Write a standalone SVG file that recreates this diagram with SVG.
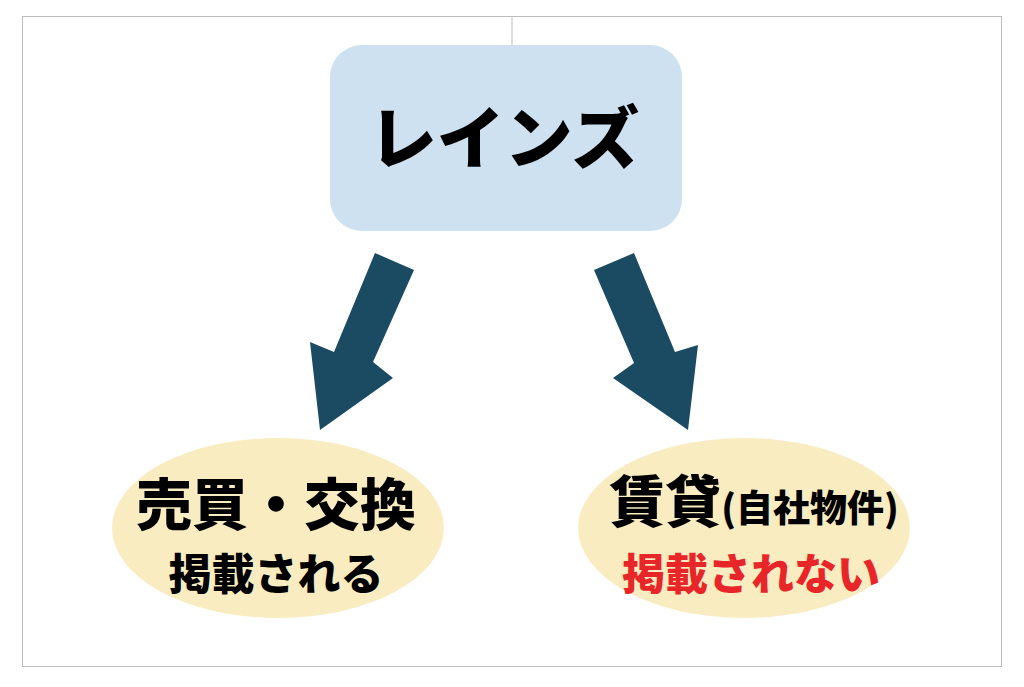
<svg xmlns="http://www.w3.org/2000/svg" width="1024" height="687" viewBox="0 0 1024 687">
<style>
text{font-family:"Noto Sans CJK JP","Noto Sans",sans-serif;font-weight:900;text-anchor:middle}
.arr{fill:#1b4a63}
.ell{fill:#f8ecc0}
</style>
<rect width="1024" height="687" fill="#fff"/>
<rect x="22.5" y="16.5" width="979" height="650" fill="none" stroke="#bbb" stroke-width="1"/>
<line x1="512" y1="16" x2="512" y2="45" stroke="#bbb"/>
<g id="reins">
<rect x="330" y="45" width="352" height="186" rx="32" fill="#cde1f0"/>
<text x="504" y="163" font-size="68">レインズ</text>
</g>
<g id="connectors">
<polygon class="arr" points="375,253 414,270 373,362 393,378 320,430 310,342 334,352"/>
<polygon class="arr" points="634,253 594,270 634,363 613,378 688,430 698,345 675,352"/>
</g>
<g id="sale">
<ellipse class="ell" cx="278" cy="528" rx="166" ry="90"/>
<text x="276" y="525" font-size="56">売買・交換</text>
<text x="276" y="590" font-size="43">掲載される</text>
</g>
<g id="rent">
<ellipse class="ell" cx="744" cy="528" rx="166" ry="90"/>
<text x="754" y="522"><tspan font-size="56">賃貸</tspan><tspan font-size="37">(自社物件)</tspan></text>
<text x="751" y="590" font-size="43" fill="#e8262a">掲載されない</text>
</g>
</svg>
